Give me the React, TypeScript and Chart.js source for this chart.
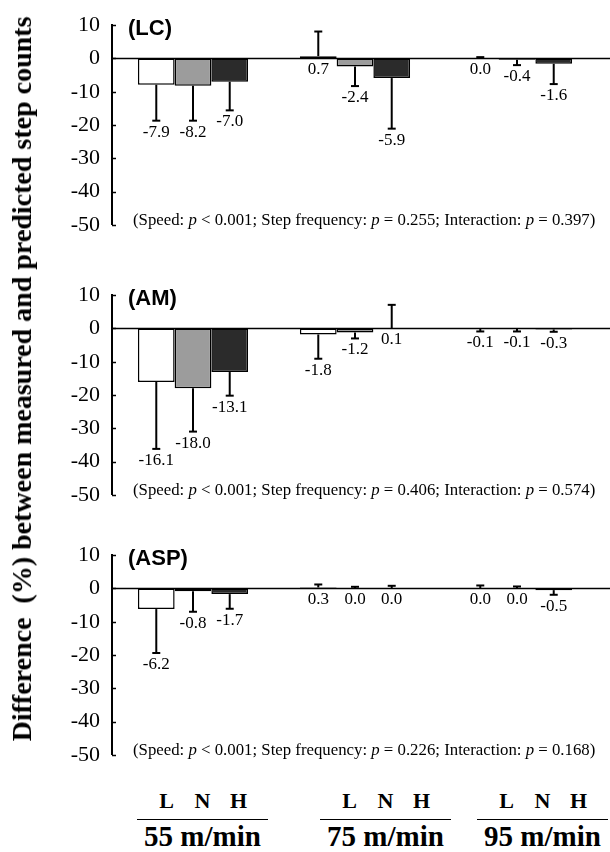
import React, { useEffect, useRef } from 'react';
import { Chart, registerables } from 'chart.js';

Chart.register(...registerables);

const SERIF = '"Liberation Serif", "Times New Roman", serif';
const SANS = '"Liberation Sans", Arial, sans-serif';

// ---- data ----
const categories = ['55 m/min', '75 m/min', '95 m/min'];
const seriesNames = ['L', 'N', 'H'];
const seriesColors = ['#ffffff', '#9c9c9c', '#2b2b2b'];
const panelTitles = ['(LC)', '(AM)', '(ASP)'];

// LC
const lcL = [-7.9, 0.7, 0.0];
const lcN = [-8.2, -2.4, -0.4];
const lcH = [-7.0, -5.9, -1.6];
const lcSdL = [10.8, 7.4, 0.4];
const lcSdN = [10.5, 5.9, 1.6];
const lcSdH = [8.6, 15.2, 6.1];
// AM
const amL = [-16.1, -1.8, -0.1];
const amN = [-18.0, -1.2, -0.1];
const amH = [-13.1, 0.1, -0.3];
const amSdL = [20.1, 7.3, 0.8];
const amSdN = [13.0, 1.8, 0.8];
const amSdH = [7.1, 7.0, 0.7];
// ASP
const aspL = [-6.2, 0.3, 0.0];
const aspN = [-0.8, 0.0, 0.0];
const aspH = [-1.7, 0.0, -0.5];
const aspSdL = [13.2, 0.9, 0.9];
const aspSdN = [6.2, 0.5, 0.6];
const aspSdH = [4.4, 0.8, 1.4];

const pSpeed = ['< 0.001', '< 0.001', '< 0.001'];
const pStep = ['0.255', '0.406', '0.226'];
const pInter = ['0.397', '0.574', '0.168'];

const yMin = -50;
const yMax = 10;
const yStep = 10;

const panelValues = [
  [lcL, lcN, lcH],
  [amL, amN, amH],
  [aspL, aspN, aspH],
];
const panelSds = [
  [lcSdL, lcSdN, lcSdH],
  [amSdL, amSdN, amSdH],
  [aspSdL, aspSdN, aspSdH],
];

const decorPlugin = {
  id: 'decor',
  beforeDatasetsDraw(chart: any) {
    const { ctx, chartArea, scales } = chart;
    const y = scales.y;
    const y0 = y.getPixelForValue(0);
    ctx.save();
    ctx.strokeStyle = '#000';
    ctx.lineWidth = 1.5;
    ctx.beginPath();
    ctx.moveTo(chartArea.left, y0);
    ctx.lineTo(chart.width, y0);
    ctx.stroke();
    ctx.lineWidth = 1.5;
    y.ticks.forEach((t: any) => {
      const py = Math.round(y.getPixelForValue(t.value)) + 0.5;
      ctx.beginPath();
      ctx.moveTo(chartArea.left, py);
      ctx.lineTo(chartArea.left + 4, py);
      ctx.stroke();
    });
    ctx.restore();
  },
  afterDatasetsDraw(chart: any, _args: any, opts: any) {
    const { ctx, chartArea, scales } = chart;
    const y = scales.y;
    const y0 = y.getPixelForValue(0);
    const sds: number[][] = opts.sds;
    ctx.save();
    ctx.strokeStyle = '#000';
    ctx.fillStyle = '#000';
    chart.data.datasets.forEach((ds: any, i: number) => {
      const meta = chart.getDatasetMeta(i);
      meta.data.forEach((bar: any, j: number) => {
        const v = ds.data[j];
        const sd = sds[i][j];
        const dir = v >= 0 ? 1 : -1;
        const pv = y.getPixelForValue(v);
        const pe = y.getPixelForValue(v + dir * sd);
        const x = bar.x;
        ctx.lineWidth = 2;
        ctx.beginPath();
        ctx.moveTo(x, pv);
        ctx.lineTo(x, pe);
        ctx.stroke();
        ctx.beginPath();
        ctx.moveTo(x - 4, pe);
        ctx.lineTo(x + 4, pe);
        ctx.stroke();
        const ly = (dir < 0 ? pe : y0) + 3;
        ctx.font = `17px ${SERIF}`;
        ctx.textAlign = 'center';
        ctx.textBaseline = 'top';
        ctx.fillText(v.toFixed(1), x, ly);
      });
    });
    // panel title
    ctx.font = `bold 22px ${SANS}`;
    ctx.textAlign = 'left';
    ctx.textBaseline = 'alphabetic';
    ctx.fillText(opts.title, chartArea.left + 16, chartArea.top + 10);
    // p-values text
    const segs: [string, boolean][] = [
      ['(Speed: ', false],
      ['p', true],
      [` ${opts.pSpeed}; Step frequency: `, false],
      ['p', true],
      [` = ${opts.pStep}; Interaction: `, false],
      ['p', true],
      [` = ${opts.pInter})`, false],
    ];
    let tx = chartArea.left + 21;
    const ty = chartArea.bottom - 4;
    ctx.textBaseline = 'middle';
    segs.forEach(([s, it]) => {
      ctx.font = `${it ? 'italic ' : ''}16.8px ${SERIF}`;
      ctx.fillText(s, tx, ty);
      tx += ctx.measureText(s).width;
    });
    ctx.restore();
  },
};

function Panel({ idx, top, padTop, padBottom }: { idx: number; top: number; padTop: number; padBottom: number }) {
  const ref = useRef<HTMLCanvasElement | null>(null);
  useEffect(() => {
    if (!ref.current) return;
    const chart = new Chart(ref.current, {
      type: 'bar',
      data: {
        labels: categories,
        datasets: seriesNames.map((name, i) => ({
          label: name,
          data: panelValues[idx][i],
          backgroundColor: seriesColors[i],
          borderColor: '#000',
          borderWidth: 1.5,
          borderSkipped: false,
          barPercentage: 1,
          categoryPercentage: 0.68,
        })),
      },
      options: {
        responsive: false,
        animation: false,
        layout: { padding: { top: padTop, bottom: padBottom, left: 0, right: 12 } },
        plugins: {
          legend: { display: false },
          tooltip: { enabled: false },
          decor: {
            sds: panelSds[idx],
            title: panelTitles[idx],
            pSpeed: pSpeed[idx],
            pStep: pStep[idx],
            pInter: pInter[idx],
          },
        } as any,
        scales: {
          x: { display: false },
          y: {
            min: yMin,
            max: yMax,
            afterFit: (s: any) => {
              s.width = 112;
            },
            ticks: {
              stepSize: yStep,
              color: '#000',
              padding: 12,
              font: { family: SERIF, size: 22 },
            },
            grid: { display: false, drawTicks: false },
            border: { display: true, color: '#000', width: 2 },
          },
        },
      },
      plugins: [decorPlugin],
    });
    return () => chart.destroy();
  }, [idx]);
  return (
    <div style={{ position: 'absolute', left: 0, top }}>
      <canvas ref={ref} width={610} height={250} style={{ display: 'block' }} />
    </div>
  );
}

const groupLefts = [137, 320, 477];

export default function App() {
  return (
    <div style={{ position: 'absolute', left: 0, top: 0, width: 610, height: 852, background: '#fff', overflow: 'hidden' }}>
      <Panel idx={0} top={0} padTop={17} padBottom={17} />
      <Panel idx={1} top={270} padTop={17} padBottom={20} />
      <Panel idx={2} top={530} padTop={18} padBottom={16} />
      <div
        style={{
          position: 'absolute',
          left: 22,
          top: 379,
          transform: 'translate(-50%, -50%) rotate(-90deg)',
          whiteSpace: 'pre',
          font: `bold 28px ${SERIF}`,
          color: '#000',
        }}
      >
        {'Difference  (%) between measured and predicted step counts'}
      </div>
      {categories.map((c, g) => (
        <div key={c} style={{ position: 'absolute', left: groupLefts[g], top: 786, width: 131, fontFamily: SERIF, fontWeight: 'bold', color: '#000' }}>
          <div style={{ display: 'flex', justifyContent: 'center', fontSize: 22, lineHeight: '30px', paddingBottom: 3, borderBottom: '1.5px solid #000' }}>
            {seriesNames.map((s) => (
              <span key={s} style={{ width: 36, textAlign: 'center' }}>{s}</span>
            ))}
          </div>
          <div style={{ textAlign: 'center', fontSize: 29, lineHeight: '30px', marginTop: 1 }}>{c}</div>
        </div>
      ))}
    </div>
  );
}
